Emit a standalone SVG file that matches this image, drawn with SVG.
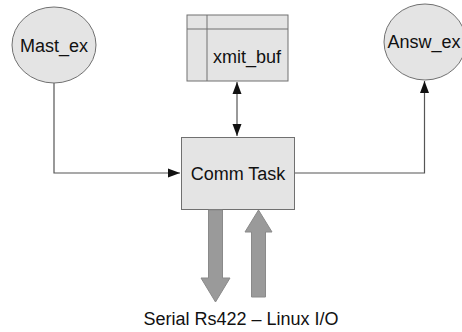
<svg xmlns="http://www.w3.org/2000/svg" width="462" height="332" viewBox="0 0 462 332">
  <style>
    .node { fill: #e4e4e4; stroke: #707070; stroke-width: 1; }
    .wire { fill: none; stroke: #555; stroke-width: 1.2; }
    .io { fill: #9a9a9a; stroke: #8a8a8a; stroke-width: 1; }
    .lbl { font-family: "Liberation Sans", Arial, sans-serif; font-size: 18px; fill: #111; text-anchor: middle; }
  </style>
  <defs>
    <marker id="tip" markerUnits="userSpaceOnUse" markerWidth="13" markerHeight="10" refX="12" refY="5" orient="auto-start-reverse">
      <path d="M0,0.5 L12,5 L0,9.5 Z" fill="#111"/>
    </marker>
  </defs>
  <rect width="462" height="332" fill="#fff"/>

  <g id="connectors">
    <path class="wire" d="M54,83 V173 H180" marker-end="url(#tip)"/>
    <path class="wire" d="M295,173 H424.5 V81" marker-end="url(#tip)"/>
    <path class="wire" d="M237,82 V136" marker-start="url(#tip)" marker-end="url(#tip)"/>
  </g>

  <g id="mast_ex">
    <ellipse class="node" cx="54" cy="45" rx="42" ry="38"/>
    <text class="lbl" x="54" y="52">Mast_ex</text>
  </g>

  <g id="answ_ex">
    <ellipse class="node" cx="425" cy="42" rx="41" ry="38"/>
    <text class="lbl" x="424" y="48">Answ_ex</text>
  </g>

  <g id="xmit_buf">
    <rect class="node" x="187" y="15" width="101" height="66"/>
    <line class="node" x1="187" y1="29" x2="288" y2="29"/>
    <line class="node" x1="207" y1="15" x2="207" y2="81"/>
    <text class="lbl" x="247" y="63">xmit_buf</text>
  </g>

  <g id="comm_task">
    <rect class="node" x="181.5" y="137.5" width="113" height="72"/>
    <text class="lbl" x="238" y="180">Comm Task</text>
  </g>

  <g id="serial_io">
    <polygon class="io" points="208.5,210 222.5,210 222.5,278 230,278 215.5,302 201,278 208.5,278"/>
    <polygon class="io" points="258.5,210 272,232 265.5,232 265.5,297 251.5,297 251.5,232 245,232"/>
    <text class="lbl" x="241" y="325">Serial Rs422 – Linux I/O</text>
  </g>
</svg>
